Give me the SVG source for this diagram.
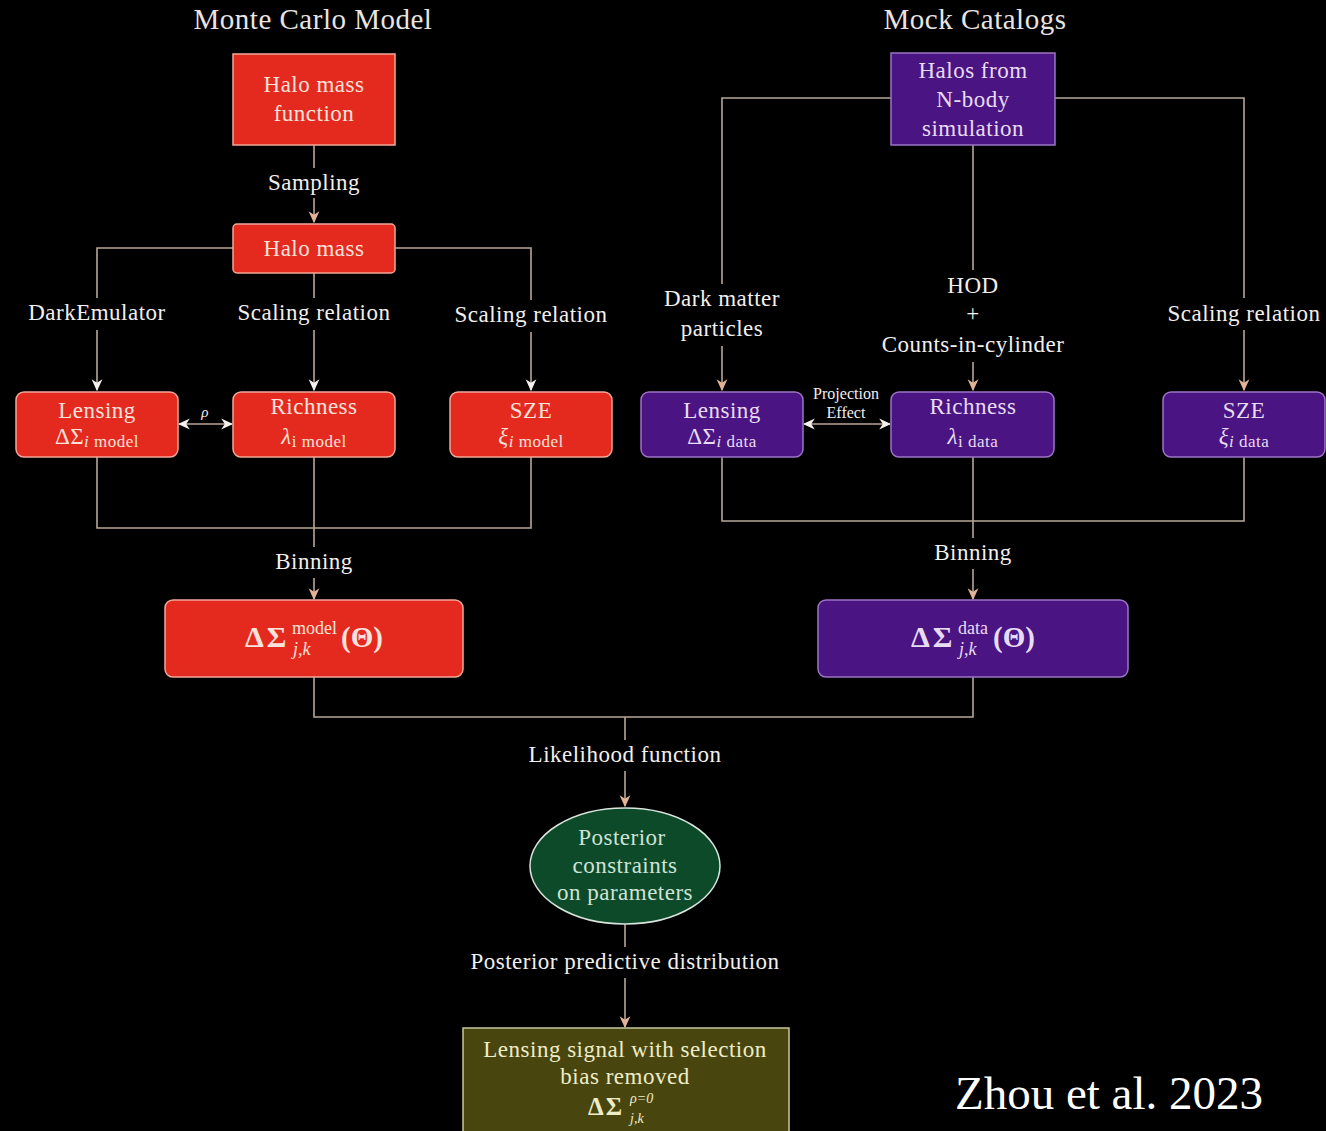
<svg xmlns="http://www.w3.org/2000/svg" width="1326" height="1131" viewBox="0 0 1326 1131">
<defs>
<marker id="aw" viewBox="0 0 10 10" refX="9" refY="5" markerWidth="12" markerHeight="12" orient="auto-start-reverse" markerUnits="userSpaceOnUse"><path d="M0,0.5 L10,5 L0,9.5 L3,5 z" fill="#f4f0ee"/></marker>
<marker id="at" viewBox="0 0 10 10" refX="9" refY="5" markerWidth="12" markerHeight="12" orient="auto-start-reverse" markerUnits="userSpaceOnUse"><path d="M0,0.5 L10,5 L0,9.5 L3,5 z" fill="#e2b396"/></marker>
<style>
text{font-family:"Liberation Serif","DejaVu Serif",serif;text-anchor:middle}
.title{font-size:29px;fill:#e8e4e2;letter-spacing:0.5px}
.lbl{font-size:23px;fill:#f2efed;letter-spacing:0.5px}
.sm{font-size:16px;fill:#f2efed}
.nt{font-size:23px;fill:#fbe2da;letter-spacing:0.5px}
.pt{font-size:23px;fill:#e8dcf4;letter-spacing:0.5px}
.gt{font-size:23px;fill:#cfe2d6;letter-spacing:0.5px}
.ot{font-size:23px;fill:#efecc8;letter-spacing:0.5px}
.st{text-anchor:start;letter-spacing:0}
.ds{text-anchor:start;font-weight:bold;font-size:30px;letter-spacing:3px}
.red{fill:#e42a1e;stroke:#f2a898;stroke-width:1.5}
.pur{fill:#4a1482;stroke:#9c74c6;stroke-width:1.5}
.grn{fill:#0c4a2a;stroke:#d8e4dc;stroke-width:1.5}
.olv{fill:#48460e;stroke:#c8c898;stroke-width:1.5}
.ln{fill:none;stroke:#b8a698;stroke-width:1.6}
.bg{fill:#000}
.mb{font-weight:bold}
.it{font-style:italic}
</style>
</defs>
<rect width="1326" height="1131" fill="#000"/>
<text class="title" x="313" y="29">Monte Carlo Model</text>
<text class="title" x="975" y="29">Mock Catalogs</text>

<g id="connectors">
<path class="ln" d="M314,145 V222" marker-end="url(#at)"/>
<path class="ln" d="M233,248 H97 V390" marker-end="url(#aw)"/>
<path class="ln" d="M395,248 H531 V390" marker-end="url(#aw)"/>
<path class="ln" d="M314,273 V390" marker-end="url(#aw)"/>
<path class="ln" d="M179,424 H232" marker-start="url(#aw)" marker-end="url(#aw)"/>
<path class="ln" d="M97,457 V528 H531 V457"/>
<path class="ln" d="M314,457 V599" marker-end="url(#at)"/>
<path class="ln" d="M891,98 H722 V390" marker-end="url(#at)"/>
<path class="ln" d="M1055,98 H1244 V390" marker-end="url(#at)"/>
<path class="ln" d="M973,145 V390" marker-end="url(#at)"/>
<path class="ln" d="M804,424 H890" marker-start="url(#aw)" marker-end="url(#aw)"/>
<path class="ln" d="M722,457 V521 H1244 V457"/>
<path class="ln" d="M973,457 V599" marker-end="url(#at)"/>
<path class="ln" d="M314,677 V717 H973 V677"/>
<path class="ln" d="M625,717 V806" marker-end="url(#at)"/>
<path class="ln" d="M625,924 V1027" marker-end="url(#at)"/>
<rect class="bg" x="264" y="168" width="102" height="30"/>
<rect class="bg" x="25" y="298" width="145" height="32"/>
<rect class="bg" x="234" y="298" width="160" height="32"/>
<rect class="bg" x="451" y="300" width="160" height="32"/>
<rect class="bg" x="272" y="547" width="84" height="31"/>
<rect class="bg" x="660" y="284" width="125" height="62"/>
<rect class="bg" x="878" y="270" width="190" height="92"/>
<rect class="bg" x="1165" y="298" width="160" height="32"/>
<rect class="bg" x="931" y="538" width="84" height="31"/>
<rect class="bg" x="525" y="740" width="202" height="31"/>
<rect class="bg" x="468" y="947" width="316" height="31"/>
<text class="lbl" x="314" y="190">Sampling</text>
<text class="lbl" x="97" y="320">DarkEmulator</text>
<text class="lbl" x="314" y="320">Scaling relation</text>
<text class="lbl" x="531" y="322">Scaling relation</text>
<text class="lbl it" x="205" y="417" style="font-size:15px">ρ</text>
<text class="lbl" x="314" y="569">Binning</text>
<text class="lbl" x="722" y="306">Dark matter</text>
<text class="lbl" x="722" y="336">particles</text>
<text class="lbl" x="973" y="293">HOD</text>
<text class="lbl" x="973" y="321">+</text>
<text class="lbl" x="973" y="352">Counts-in-cylinder</text>
<text class="lbl" x="1244" y="321">Scaling relation</text>
<text class="sm" x="846" y="399">Projection</text>
<text class="sm" x="846" y="418">Effect</text>
<text class="lbl" x="973" y="560">Binning</text>
<text class="lbl" x="625" y="762">Likelihood function</text>
<text class="lbl" x="625" y="969">Posterior predictive distribution</text>
</g>

<g id="halo-mass-function">
<rect class="red" x="233" y="54" width="162" height="91"/>
<text class="nt" x="314" y="92">Halo mass</text>
<text class="nt" x="314" y="121">function</text>
</g>
<g id="halo-mass">
<rect class="red" x="233" y="224" width="162" height="49" rx="4"/>
<text class="nt" x="314" y="256">Halo mass</text>
</g>
<g id="lensing-model">
<rect class="red" x="16" y="392" width="162" height="65" rx="8"/>
<text class="nt" x="97" y="418">Lensing</text>
<text class="nt" x="97" y="444"><tspan>ΔΣ</tspan><tspan class="it" style="font-size:17px" dy="3">i</tspan><tspan style="font-size:17px"> model</tspan></text>
</g>
<g id="richness-model">
<rect class="red" x="233" y="392" width="162" height="65" rx="8"/>
<text class="nt" x="314" y="414">Richness</text>
<text class="nt" x="314" y="444"><tspan class="it">λ</tspan><tspan style="font-size:17px" dy="3">i  model</tspan></text>
</g>
<g id="sze-model">
<rect class="red" x="450" y="392" width="162" height="65" rx="8"/>
<text class="nt" x="531" y="418">SZE</text>
<text class="nt" x="531" y="444"><tspan class="it">ξ</tspan><tspan class="it" style="font-size:17px" dy="3">i</tspan><tspan style="font-size:17px"> model</tspan></text>
</g>
<g id="halos-nbody">
<rect class="pur" x="891" y="53" width="164" height="92"/>
<text class="pt" x="973" y="78">Halos from</text>
<text class="pt" x="973" y="107">N-body</text>
<text class="pt" x="973" y="136">simulation</text>
</g>
<g id="lensing-data">
<rect class="pur" x="641" y="392" width="162" height="65" rx="8"/>
<text class="pt" x="722" y="418">Lensing</text>
<text class="pt" x="722" y="444"><tspan>ΔΣ</tspan><tspan class="it" style="font-size:17px" dy="3">i</tspan><tspan style="font-size:17px"> data</tspan></text>
</g>
<g id="richness-data">
<rect class="pur" x="891" y="392" width="163" height="65" rx="8"/>
<text class="pt" x="973" y="414">Richness</text>
<text class="pt" x="973" y="444"><tspan class="it">λ</tspan><tspan style="font-size:17px" dy="3">i  data</tspan></text>
</g>
<g id="sze-data">
<rect class="pur" x="1163" y="392" width="162" height="65" rx="8"/>
<text class="pt" x="1244" y="418">SZE</text>
<text class="pt" x="1244" y="444"><tspan class="it">ξ</tspan><tspan class="it" style="font-size:17px" dy="3">i</tspan><tspan style="font-size:17px"> data</tspan></text>
</g>
<g id="dsigma-model">
<rect class="red" x="165" y="600" width="298" height="77" rx="8"/>
<text class="nt ds" x="245" y="647">ΔΣ</text>
<text class="nt st" x="292" y="634" style="font-size:18px">model</text>
<text class="nt it st" x="293" y="655" style="font-size:18px">j,k</text>
<text class="nt mb st" x="341" y="647" style="font-size:29px">(Θ)</text>
</g>
<g id="dsigma-data">
<rect class="pur" x="818" y="600" width="310" height="77" rx="8"/>
<text class="pt ds" x="911" y="647">ΔΣ</text>
<text class="pt st" x="958" y="634" style="font-size:18px">data</text>
<text class="pt it st" x="959" y="655" style="font-size:18px">j,k</text>
<text class="pt mb st" x="993" y="647" style="font-size:29px">(Θ)</text>
</g>
<g id="posterior">
<ellipse class="grn" cx="625" cy="866" rx="95" ry="58"/>
<text class="gt" x="622" y="845">Posterior</text>
<text class="gt" x="625" y="873">constraints</text>
<text class="gt" x="625" y="900">on parameters</text>
</g>
<g id="lensing-signal">
<rect class="olv" x="463" y="1028" width="326" height="110"/>
<text class="ot" x="625" y="1057">Lensing signal with selection</text>
<text class="ot" x="625" y="1084">bias removed</text>
<text class="ot ds" x="588" y="1115" style="font-size:25px;letter-spacing:2px">ΔΣ</text>
<text class="ot it st" x="630" y="1103" style="font-size:14px">ρ=0</text>
<text class="ot it st" x="630" y="1123" style="font-size:14px">j,k</text>
</g>
<text x="1109" y="1109" style="font-size:47px;fill:#ffffff">Zhou et al. 2023</text>
</svg>
